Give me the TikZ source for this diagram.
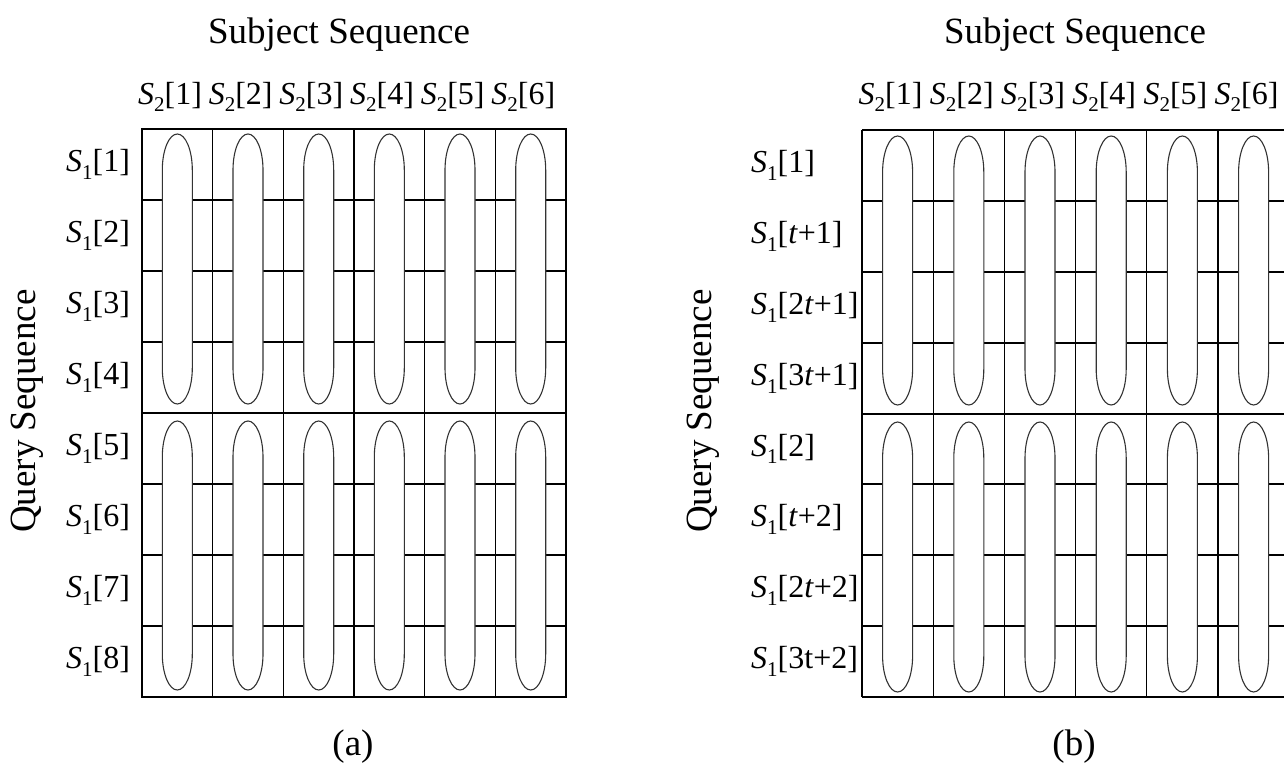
\documentclass[tikz,border=0pt]{standalone}
\usepackage{fontspec}
\setmainfont{Liberation Serif}

\newcommand{\seqlab}[2]{\textit{S}{\fontsize{21}{21}\selectfont\raisebox{-7.5pt}{#1}}[#2]}
% one oval lane: centre x, top y, bottom y
\newcommand{\lane}[3]{%
  \draw[lane] (#1-15,#2+36) -- (#1-15,#3-36)
    arc[start angle=180, end angle=0, x radius=15, y radius=36]
    -- (#1+15,#2+36)
    arc[start angle=0, end angle=-180, x radius=15, y radius=36] -- cycle;}

\tikzset{
  cell/.style={line width=1.3pt},
  midline/.style={line width=2pt},
  lane/.style={draw=black!80, line width=1.1pt, fill=white},
  lab/.style={inner sep=0pt, font=\fontsize{32}{36}\selectfont},
  ttl/.style={inner sep=0pt, font=\fontsize{37}{40}\selectfont}
}

\begin{document}
\begin{tikzpicture}[x=1pt,y=-1pt]
\useasboundingbox (0,0) rectangle (1284,767);
\clip (0,0) rectangle (1284,767);

% (a) grid
\draw[cell] (142,129) rectangle (566,697);
\draw[cell] (142,200)--(566,200);
\draw[cell] (142,271)--(566,271);
\draw[cell] (142,342)--(566,342);
\draw[midline] (142,413)--(566,413);
\draw[cell] (142,484)--(566,484);
\draw[cell] (142,555)--(566,555);
\draw[cell] (142,626)--(566,626);
\draw[cell] (212.7,129)--(212.7,697);
\draw[cell] (283.3,129)--(283.3,697);
\draw[cell] (354,129)--(354,697);
\draw[cell] (424.7,129)--(424.7,697);
\draw[cell] (495.3,129)--(495.3,697);

\lane{177.3}{134}{404}
\lane{248.0}{134}{404}
\lane{318.7}{134}{404}
\lane{389.3}{134}{404}
\lane{460.0}{134}{404}
\lane{530.7}{134}{404}
\lane{177.3}{421}{690}
\lane{248.0}{421}{690}
\lane{318.7}{421}{690}
\lane{389.3}{421}{690}
\lane{460.0}{421}{690}
\lane{530.7}{421}{690}

\node[ttl] (subjA) at (339,35) {Subject Sequence};
\node[ttl, rotate=90] (queryA) at (27,411) {Query Sequence};
\node[ttl] (capA) at (353,747) {(a)};

\node[lab] (ta1) at (170,97) {\seqlab{2}{1}};
\node[lab] (ta2) at (240.7,97) {\seqlab{2}{2}};
\node[lab] (ta3) at (311.3,97) {\seqlab{2}{3}};
\node[lab] (ta4) at (382,97) {\seqlab{2}{4}};
\node[lab] (ta5) at (452.7,97) {\seqlab{2}{5}};
\node[lab] (ta6) at (523.3,97) {\seqlab{2}{6}};

\node[lab, anchor=west] (la1) at (66,164.5) {\seqlab{1}{1}};
\node[lab, anchor=west] (la2) at (66,235.5) {\seqlab{1}{2}};
\node[lab, anchor=west] (la3) at (66,306.5) {\seqlab{1}{3}};
\node[lab, anchor=west] (la4) at (66,377.5) {\seqlab{1}{4}};
\node[lab, anchor=west] (la5) at (66,448.5) {\seqlab{1}{5}};
\node[lab, anchor=west] (la6) at (66,519.5) {\seqlab{1}{6}};
\node[lab, anchor=west] (la7) at (66,590.5) {\seqlab{1}{7}};
\node[lab, anchor=west] (la8) at (66,661.5) {\seqlab{1}{8}};

% (b) grid, cut at the right edge
\draw[cell] (862,130)--(1290,130);
\draw[cell] (862,697)--(1290,697);
\draw[cell] (862,130)--(862,697);
\draw[cell] (862,201)--(1290,201);
\draw[cell] (862,272)--(1290,272);
\draw[cell] (862,343)--(1290,343);
\draw[midline] (862,414)--(1290,414);
\draw[cell] (862,484)--(1290,484);
\draw[cell] (862,555)--(1290,555);
\draw[cell] (862,626)--(1290,626);
\draw[cell] (933.2,130)--(933.2,697);
\draw[cell] (1004.4,130)--(1004.4,697);
\draw[cell] (1075.6,130)--(1075.6,697);
\draw[cell] (1146.8,130)--(1146.8,697);
\draw[cell] (1218,130)--(1218,697);

\lane{897.6}{136}{405}
\lane{968.8}{136}{405}
\lane{1040.0}{136}{405}
\lane{1111.2}{136}{405}
\lane{1182.4}{136}{405}
\lane{1253.6}{136}{405}
\lane{897.6}{422}{692}
\lane{968.8}{422}{692}
\lane{1040.0}{422}{692}
\lane{1111.2}{422}{692}
\lane{1182.4}{422}{692}
\lane{1253.6}{422}{692}

\node[ttl] (subjB) at (1075,35) {Subject Sequence};
\node[ttl, rotate=90] (queryB) at (703,411) {Query Sequence};
\node[ttl] (capB) at (1074,747) {(b)};

\node[lab] (tb1) at (890.6,97) {\seqlab{2}{1}};
\node[lab] (tb2) at (961.8,97) {\seqlab{2}{2}};
\node[lab] (tb3) at (1033,97) {\seqlab{2}{3}};
\node[lab] (tb4) at (1104.2,97) {\seqlab{2}{4}};
\node[lab] (tb5) at (1175.4,97) {\seqlab{2}{5}};
\node[lab] (tb6) at (1246.6,97) {\seqlab{2}{6}};

\node[lab, anchor=west] (lb1) at (751,165.5) {\seqlab{1}{1}};
\node[lab, anchor=west] (lb2) at (751,236.5) {\seqlab{1}{\textit{t}+1}};
\node[lab, anchor=west] (lb3) at (751,307.5) {\seqlab{1}{2\textit{t}+1}};
\node[lab, anchor=west] (lb4) at (751,378.5) {\seqlab{1}{3\textit{t}+1}};
\node[lab, anchor=west] (lb5) at (751,449) {\seqlab{1}{2}};
\node[lab, anchor=west] (lb6) at (751,519.5) {\seqlab{1}{\textit{t}+2}};
\node[lab, anchor=west] (lb7) at (751,590.5) {\seqlab{1}{2\textit{t}+2}};
\node[lab, anchor=west] (lb8) at (751,661.5) {\seqlab{1}{3t+2}};

\end{tikzpicture}
\end{document}
